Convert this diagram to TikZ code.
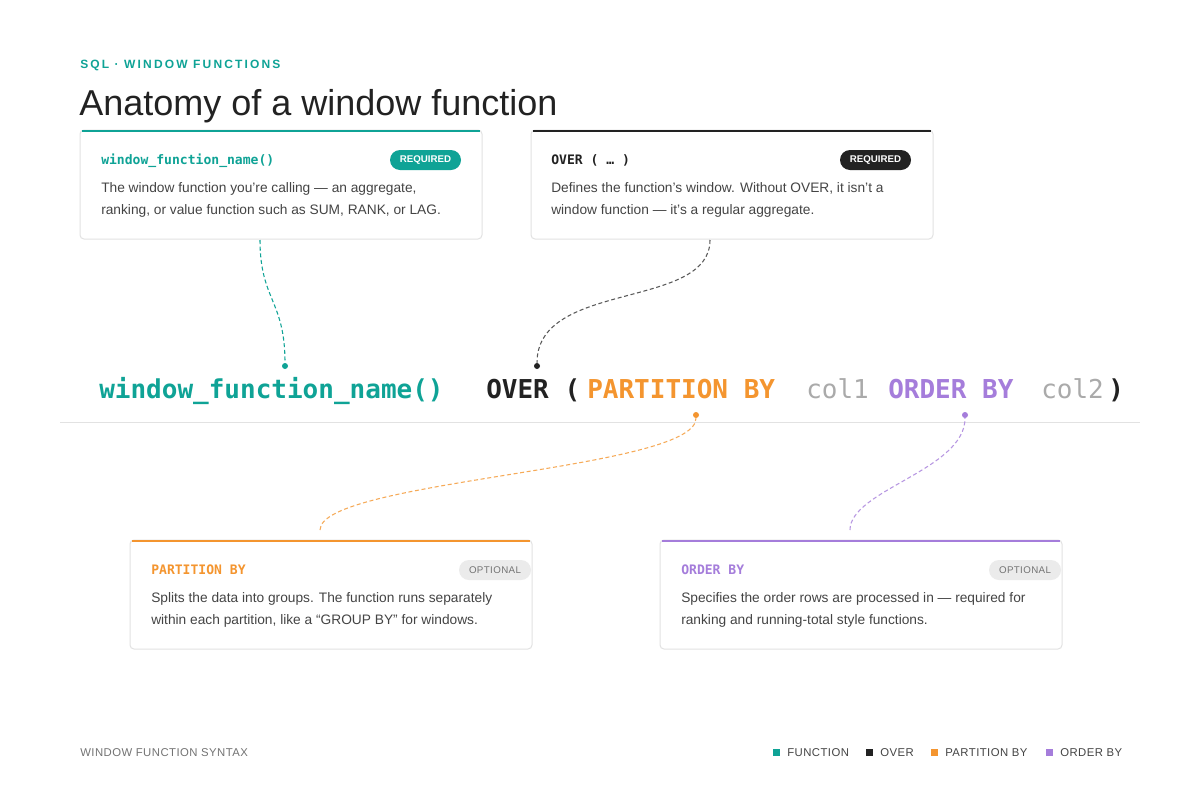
\documentclass[tikz,border=0pt]{standalone}
\usepackage{fontspec}
\setmainfont{Liberation Sans}
\newfontfamily\codef{DejaVu Sans Mono}
\newfontfamily\hdrf[LetterSpace=18]{Liberation Sans}
\newfontfamily\capf[LetterSpace=4]{Liberation Sans}
\definecolor{teal}{HTML}{0FA396}
\definecolor{ora}{HTML}{F4952F}
\definecolor{pur}{HTML}{A57DDB}
\definecolor{blk}{HTML}{222222}
\definecolor{txt}{HTML}{444444}
\definecolor{gry}{HTML}{AAAAAA}
\definecolor{brd}{HTML}{E2E2E2}
\begin{document}
\begin{tikzpicture}[x=0.75pt,y=-0.75pt,
 card/.style={draw=brd,fill=white,rounded corners=3pt,line width=0.75pt},
 body/.style={anchor=base west,inner sep=0,font=\fontsize{10.3}{12}\selectfont,text=txt},
 ctitle/.style={anchor=base west,inner sep=0,font=\codef\bfseries\fontsize{9.8}{12}\selectfont},
 badge/.style={rounded corners=7.5pt,inner sep=0,minimum height=15pt,font=\bfseries\fontsize{7.3}{9}\selectfont},
 code/.style={anchor=base west,inner sep=0,font=\codef\bfseries\fontsize{19.5}{22}\selectfont},
 dot/.style={circle,inner sep=0,minimum size=4.5pt},
 conn/.style={dashed,dash pattern=on 3pt off 2pt,line width=0.8pt},
 leg/.style={anchor=base west,inner sep=0,font=\capf\fontsize{8.5}{10}\selectfont,text=txt}]
\useasboundingbox (0,0) rectangle (1200,800);
\fill[white] (0,0) rectangle (1200,800);
% header
\node[anchor=base west,inner sep=0,font=\hdrf\bfseries\fontsize{9}{10}\selectfont,text=teal] (hdr) at (80,68) {SQL · WINDOW FUNCTIONS};
\node[anchor=base west,inner sep=0,font=\fontsize{27}{30}\selectfont,text=blk] (ttl) at (79,115) {Anatomy of a window function};
% cards
\foreach \x/\y/\c/\n in {80/130/teal/A,531/130/blk/B,130/540/ora/C,660/540/pur/D}{
 \draw[card] (\x,\y) rectangle ++(402,109);
 \draw[\c,line width=1.6pt] (\x+2,\y+1) -- (\x+400,\y+1);
}
\node[ctitle,text=teal] (t1) at (101,164) {window\_function\_name()};
\node[badge,fill=teal,text=white,minimum width=53.25pt] (b1) at (425.5,160) {REQUIRED};
\node[body] (d1a) at (101,192) {The window function you’re calling — an aggregate,};
\node[body] (d1b) at (101,214) {ranking, or value function such as SUM, RANK, or LAG.};
\node[ctitle,text=blk] (t2) at (551,164) {OVER ( … )};
\node[badge,fill=blk,text=white,minimum width=53.25pt] (b2) at (875.5,160) {REQUIRED};
\node[body] (d2a) at (551,192) {Defines the function’s window. Without OVER, it isn’t a};
\node[body] (d2b) at (551,214) {window function — it’s a regular aggregate.};
\node[ctitle,text=ora] (t3) at (151,574) {PARTITION BY};
\node[badge,fill=black!8,text=black!55,font=\capf\fontsize{7.3}{9}\selectfont,minimum width=54pt] (b3) at (495,570) {OPTIONAL};
\node[body] (d3a) at (151,602) {Splits the data into groups. The function runs separately};
\node[body] (d3b) at (151,624) {within each partition, like a “GROUP BY” for windows.};
\node[ctitle,text=pur] (t4) at (681,574) {ORDER BY};
\node[badge,fill=black!8,text=black!55,font=\capf\fontsize{7.3}{9}\selectfont,minimum width=54pt] (b4) at (1025,570) {OPTIONAL};
\node[body] (d4a) at (681,602) {Specifies the order rows are processed in — required for};
\node[body] (d4b) at (681,624) {ranking and running-total style functions.};
% code line
\node[code,text=teal] (k1) at (99,398) {window\_function\_name()};
\node[code,text=blk] (k2) at (486,398) {OVER (};
\node[code,text=ora] (k3) at (587,398) {PARTITION BY};
\node[code,text=gry,font=\codef\fontsize{19.5}{22}\selectfont] (k4) at (806,398) {col1};
\node[code,text=pur] (k5) at (888,398) {ORDER BY};
\node[code,text=gry,font=\codef\fontsize{19.5}{22}\selectfont] (k6) at (1041,398) {col2};
\node[code,text=blk] (k7) at (1108,398) {)};
\draw[brd,line width=0.75pt] (60,422) -- (1140,422);
% connectors
\coordinate (s1) at (260,240); \node[dot,fill=teal] (p1) at (285,366) {};
\coordinate (s2) at (710,240); \node[dot,fill=blk] (p2) at (537,366) {};
\coordinate (s3) at (320,530); \node[dot,fill=ora] (p3) at (696,415) {};
\coordinate (s4) at (850,530); \node[dot,fill=pur] (p4) at (965,415) {};
\draw[conn,teal] (s1) .. controls (260,300) and (285,300) .. (p1);
\draw[conn,blk!75] (s2) .. controls (710,310) and (537,280) .. (p2);
\draw[conn,ora!80] (s3) .. controls (320,480) and (696,470) .. (p3);
\draw[conn,pur!80] (s4) .. controls (850,490) and (965,470) .. (p4);
% footer
\node[leg,text=black!55] (ft) at (80,756) {WINDOW FUNCTION SYNTAX};
\foreach \x/\c/\l/\n in {773/teal/FUNCTION/la,866/blk/OVER/lb,931/ora/PARTITION BY/lc,1046/pur/ORDER BY/ld}{
 \fill[\c] (\x,749) rectangle ++(7,7);
 \node[leg] (\n) at (\x+14,756) {\l};
}
\end{tikzpicture}
\end{document}
